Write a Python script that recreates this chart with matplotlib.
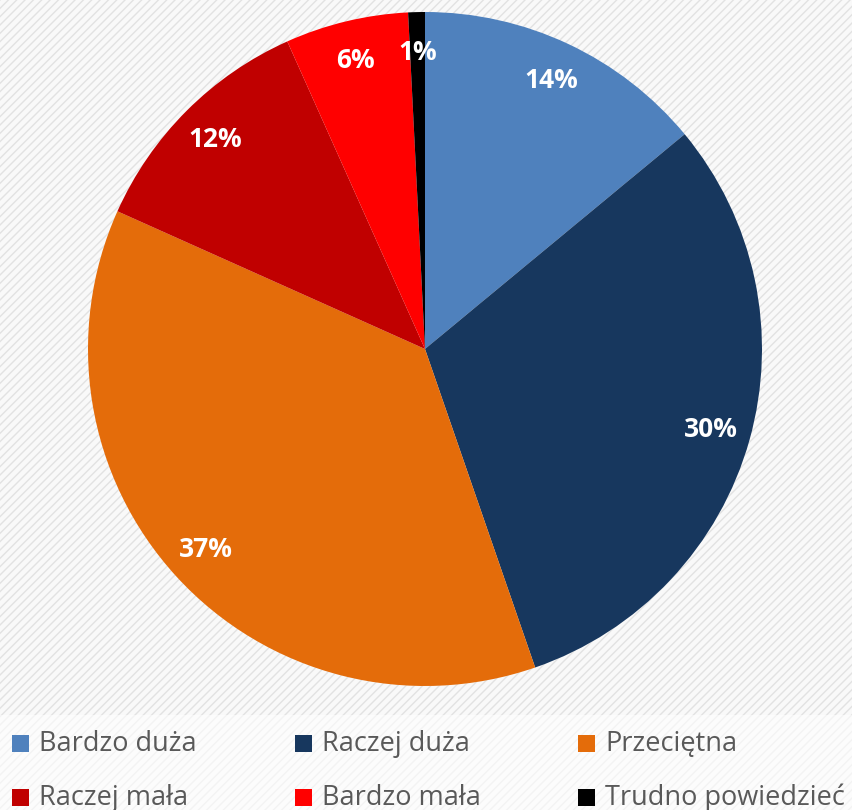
import matplotlib.pyplot as plt
from matplotlib.patches import Rectangle

categories = ["Bardzo duża", "Raczej duża", "Przeciętna",
              "Raczej mała", "Bardzo mała", "Trudno powiedzieć"]
values = [14.0, 30.7, 37.0, 11.6, 5.9, 0.8]
pct_labels = ["14%", "30%", "37%", "12%", "6%", "1%"]
colors = ["#4f81bd", "#17375e", "#e46c0a", "#c00000", "#ff0000", "#000000"]

W, H = 853, 810
fig = plt.figure(figsize=(W / 100, H / 100), dpi=100)
fig.patch.set_facecolor("white")

# tło w delikatne ukośne paski
bg = fig.add_axes([0, 0, 1, 1])
bg.set_axis_off()
bg.add_patch(Rectangle((0, 0), 1, 1, transform=bg.transAxes,
                       facecolor="#f9f9f9", edgecolor="#e2e2e2",
                       hatch="////", linewidth=0))
bg.add_patch(Rectangle((0, 0), 1, 1 - 715 / H, transform=bg.transAxes,
                       facecolor="white", alpha=0.6, linewidth=0))

ax = fig.add_axes([88 / W, 124 / H, 674 / W, 674 / H])
wedges, texts = ax.pie(values, colors=colors, startangle=90,
                       counterclock=False, labels=pct_labels,
                       labeldistance=0.88,
                       wedgeprops=dict(linewidth=0))
for t in texts:
    t.set_ha("center")
    t.set_va("center")
    t.set_color("white")
    t.set_fontsize(19)
    t.set_fontweight("bold")
    t.set_family(["Open Sans", "DejaVu Sans"])
ax.set_xlim(-1, 1)
ax.set_ylim(-1, 1)
ax.set_aspect("equal")

# legenda w trzech kolumnach (dolny wiersz przycięty jak w oryginale)
for i, (name, col) in enumerate(zip(categories, colors)):
    cx = 12 + (i % 3) * 283
    cy = 743 + (i // 3) * 54
    fig.patches.append(Rectangle((cx / W, 1 - (cy + 9) / H), 17 / W, 17 / H,
                                 transform=fig.transFigure, facecolor=col,
                                 linewidth=0))
    fig.text((cx + 27) / W, 1 - (cy + 1) / H, name, ha="left", va="center",
             fontsize=19.5, color="#595959",
             family=["Open Sans", "DejaVu Sans"])

fig.savefig("out.png", dpi=100, facecolor=fig.get_facecolor())
